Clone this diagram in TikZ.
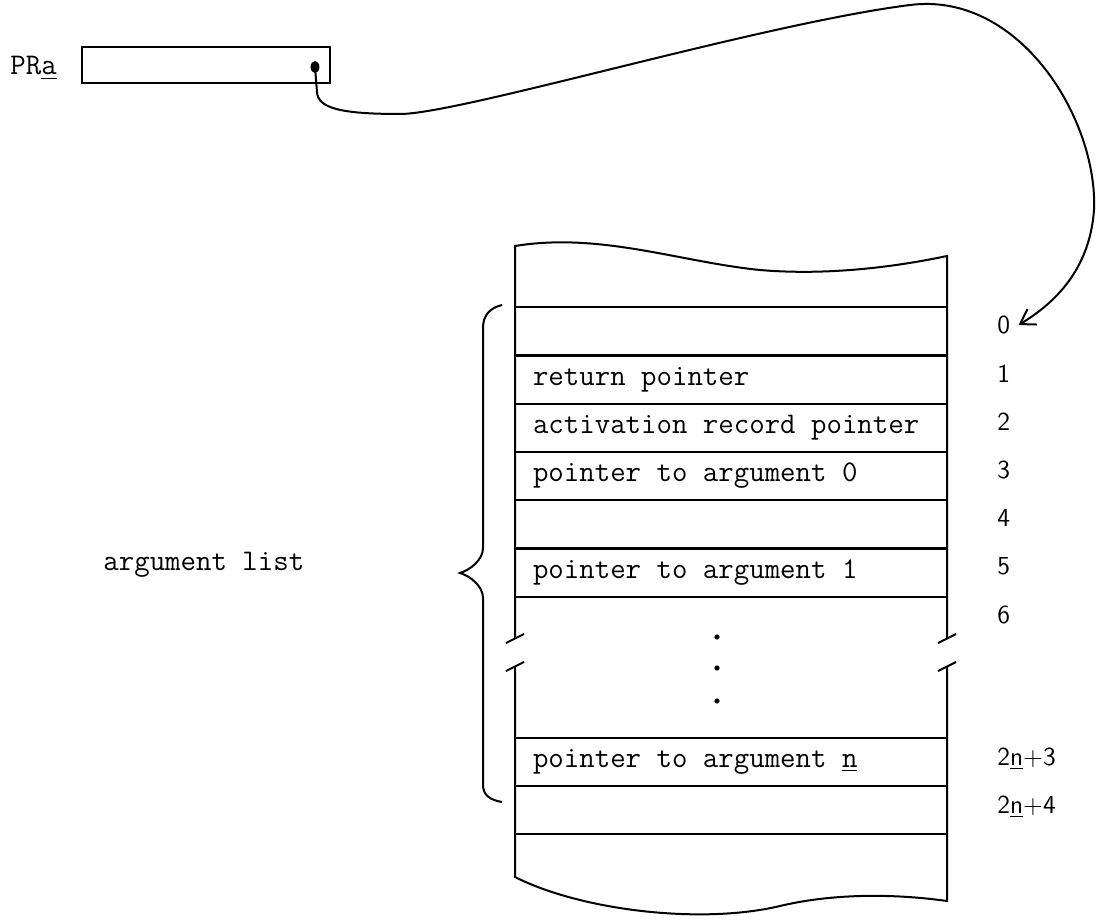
\documentclass[tikz,border=0pt]{standalone}
\usetikzlibrary{arrows.meta,positioning}
\tikzset
{
    cell/.style = {rectangle, draw=black, line width=1pt, minimum width=216pt, minimum height=24.2pt, inner xsep=9pt, inner ysep=0pt, text width=198pt, align=flush left, font=\fontsize{15}{18}\selectfont\ttfamily},
    idx/.style  = {anchor=west, inner sep=0pt, font=\fontsize{13}{16}\selectfont\sffamily},
    lbl/.style  = {inner sep=0pt, font=\fontsize{15}{18}\selectfont\ttfamily},
    wall/.style = {line width=1pt}
}

\begin{document}
\begin{tikzpicture}[x=0.5pt, y=-0.5pt]
\useasboundingbox (0,0) rectangle (1104,920);

%% pointer register
\node (pr)    [lbl, anchor=base west]                              at (10,75)   {PR\underline{a}};
\node (prbox) [draw, line width=1pt, minimum width=124pt, minimum height=18pt] at (206,65) {};
\coordinate (dot) at (315,67);
\fill (dot) ellipse (2.2pt and 3pt);

%% stack cells
\node (c0)  [cell] at (731,331) {};
\node (c1)  [cell] at (731,380) {return pointer};
\node (c2)  [cell] at (731,428) {activation record pointer};
\node (c3)  [cell] at (731,476) {pointer to argument 0};
\node (c4)  [cell] at (731,524) {};
\node (c5)  [cell] at (731,573) {pointer to argument 1};
\node (cn)  [cell] at (731,762) {pointer to argument \underline{n}};
\node (cn1) [cell] at (731,810) {};

%% walls with torn ends and breaks
\draw[wall] (515,638) -- (515,246) .. controls (600,232) and (680,262) .. (760,270)
            .. controls (830,276) and (900,266) .. (947,256) -- (947,638);
\draw[wall] (515,666) -- (515,877) .. controls (580,910) and (700,925) .. (780,906)
            .. controls (830,894) and (890,893) .. (947,901) -- (947,666);
\foreach \x in {515,947}
{
    \draw[wall] (\x-9,643) -- (\x+9,634);
    \draw[wall] (\x-9,671) -- (\x+9,662);
}
\foreach \y in {637,668,701}
    \fill (717,\y) circle (1.3pt);

%% offsets
\node (i0)  [idx] at (997,325) {0};
\node (i1)  [idx] at (997,374) {1};
\node (i2)  [idx] at (997,422) {2};
\node (i3)  [idx] at (997,470) {3};
\node (i4)  [idx] at (997,518) {4};
\node (i5)  [idx] at (997,566) {5};
\node (i6)  [idx] at (997,615) {6};
\node (i7)  [idx] at (997,759) {2\underline{n}+3};
\node (i8)  [idx] at (997,807) {2\underline{n}+4};

%% argument list brace
\coordinate (tip) at (460,573);
\draw[line width=1pt] (502,305) .. controls (490,308) and (483,315) .. (483,328) -- (483,548)
      .. controls (483,560) and (470,570) .. (tip) .. controls (470,576) and (483,586) .. (483,598)
      -- (483,785) .. controls (483,795) and (490,800) .. (502,802);
\node (args) [lbl, anchor=west] at (103,565) {argument list};

%% pointer to word 0
\draw[-{Straight Barb[length=7pt,width=9pt]}, line width=1pt]
    (dot) -- (317,92) .. controls (318,108) and (340,114) .. (400,114)
    .. controls (460,114) and (760,24) .. (910,5)
    .. controls (1020,-9) and (1098,120) .. (1094,210)
    .. controls (1090,265) and (1060,300) .. ([xshift=4pt]i0.east);
\end{tikzpicture}
\end{document}
